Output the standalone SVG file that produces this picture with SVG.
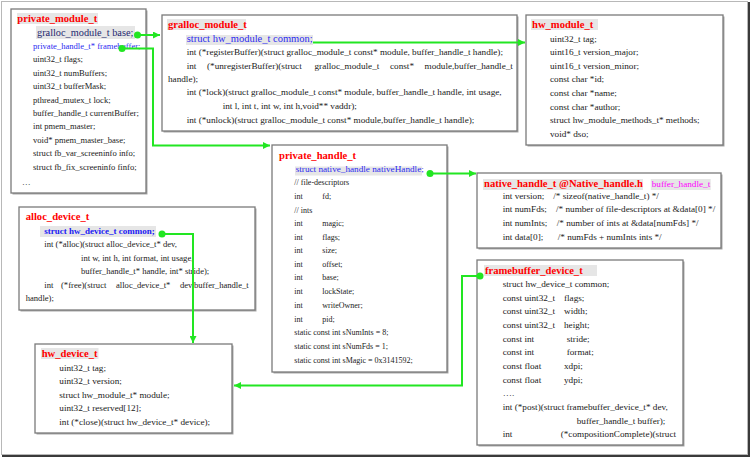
<svg xmlns="http://www.w3.org/2000/svg" width="752" height="458" viewBox="0 0 752 458">
<defs>
<style>
.bg{fill:#ffffff}
.frame{fill:none;stroke:#b8b8b8;stroke-width:1}
.frameshadow{fill:none;stroke:#3a3a3a;stroke-width:2}
.box{fill:#ffffff;stroke:#7a7a7a;stroke-width:1.3}
.shadow{fill:#a8a8a8}
.hl{fill:#e6e6e6}
text{font-family:"Liberation Serif","Times New Roman",serif;fill:#1a1a1a;font-size:9.2px}
.title{font-weight:bold;fill:#ff0000;font-size:10.6px}
.sm{font-size:8.6px}
.xs{font-size:8px}
.blue{fill:#2b2bf0}
.navy{fill:#1e2870;font-size:10.3px}
.bblue{fill:#1a1af5;font-weight:bold;font-size:9px}
.mag{fill:#ff00ff}
.conn{stroke:#22e622;stroke-width:2;fill:none}
.dot{fill:#22e622}
</style>
<marker id="arr" markerUnits="userSpaceOnUse" markerWidth="8" markerHeight="7" viewBox="0 0 10 10" refX="10" refY="5" orient="auto">
<path d="M0,0 L10,5 L0,10 z" fill="#22e622"/>
</marker>
</defs>
<rect class="bg" x="0" y="0" width="752" height="458"/>
<rect class="frame" x="1.5" y="1.5" width="746" height="453"/>
<path class="frameshadow" d="M749,2 V456 H2"/>

<g id="private_module_t">
<rect class="shadow" x="12.5" y="10.5" width="135" height="184"/>
<rect class="box" x="11" y="9" width="135" height="184"/>
<rect class="hl" x="17" y="13" width="81" height="11"/>
<text class="title" x="17.3" y="22">private_module_t</text>
<rect class="hl" x="36" y="26" width="99" height="13"/>
<text class="navy" x="37" y="36">gralloc_module_t base;</text>
<text class="sm blue" x="33" y="48.5">private_handle_t* framebuffer;</text>
<text class="sm" x="33" y="62">uint32_t flags;</text>
<text class="sm" x="33" y="75.5">uint32_t numBuffers;</text>
<text class="sm" x="33" y="89">uint32_t bufferMask;</text>
<text class="sm" x="33" y="102.5">pthread_mutex_t lock;</text>
<text class="sm" x="33" y="115.5">buffer_handle_t currentBuffer;</text>
<text class="sm" x="33" y="129">int pmem_master;</text>
<text class="sm" x="33" y="142.5">void* pmem_master_base;</text>
<text class="sm" x="33" y="156">struct fb_var_screeninfo info;</text>
<text class="sm" x="33" y="169.5">struct fb_fix_screeninfo finfo;</text>
<text class="sm" x="22" y="185">…</text>
</g>

<g id="gralloc_module_t">
<rect class="shadow" x="163.5" y="16.5" width="355" height="116"/>
<rect class="box" x="162" y="15" width="355" height="116"/>
<rect class="hl" x="167" y="19" width="79" height="11"/>
<text class="title" x="168" y="28">gralloc_module_t</text>
<rect class="hl" x="186" y="35" width="127" height="10"/>
<text class="blue" x="186.7" y="42" style="font-size:10.5px">struct hw_module_t common;</text>
<text x="186.7" y="55">int (*registerBuffer)(struct gralloc_module_t const* module, buffer_handle_t handle);</text>
<text y="68.5"><tspan x="186.7">int</tspan><tspan x="207">(*unregisterBuffer)(struct</tspan><tspan x="314.5">gralloc_module_t</tspan><tspan x="390">const*</tspan><tspan x="424.5">module,buffer_handle_t</tspan></text>
<text x="168" y="82">handle);</text>
<text x="186.7" y="95">int (*lock)(struct gralloc_module_t const* module, buffer_handle_t handle, int usage,</text>
<text x="222.7" y="108.5">int l, int t, int w, int h,void** vaddr);</text>
<text x="186.7" y="122.5">int (*unlock)(struct gralloc_module_t const* module,buffer_handle_t handle);</text>
</g>

<g id="hw_module_t">
<rect class="shadow" x="527.5" y="16.5" width="197" height="130"/>
<rect class="box" x="526" y="15" width="197" height="130"/>
<rect class="hl" x="531" y="19" width="67" height="11"/>
<text class="title" x="532" y="28">hw_module_t</text>
<text x="550" y="41.5">uint32_t tag;</text>
<text x="550" y="55">uint16_t version_major;</text>
<text x="550" y="68.7">uint16_t version_minor;</text>
<text x="550" y="82.3">const char *id;</text>
<text x="550" y="96">const char *name;</text>
<text x="550" y="109.7">const char *author;</text>
<text x="550" y="123.3">struct hw_module_methods_t* methods;</text>
<text x="550" y="137">void* dso;</text>
</g>

<g id="private_handle_t">
<rect class="shadow" x="273.5" y="146.5" width="175" height="227"/>
<rect class="box" x="272" y="145" width="175" height="227"/>
<text class="title" x="279" y="159">private_handle_t</text>
<rect class="hl" x="295" y="166.5" width="127" height="9"/>
<text class="blue" x="295.7" y="172">struct native_handle nativeHandle;</text>
<text class="xs" x="294.3" y="185.3">// file-descriptors</text>
<text class="xs" y="199"><tspan x="294.3">int</tspan><tspan x="322.3">fd;</tspan></text>
<text class="xs" x="294.3" y="212.5">// ints</text>
<text class="xs" y="226"><tspan x="294.3">int</tspan><tspan x="322.3">magic;</tspan></text>
<text class="xs" y="239.5"><tspan x="294.3">int</tspan><tspan x="322.3">flags;</tspan></text>
<text class="xs" y="253"><tspan x="294.3">int</tspan><tspan x="322.3">size;</tspan></text>
<text class="xs" y="266.7"><tspan x="294.3">int</tspan><tspan x="322.3">offset;</tspan></text>
<text class="xs" y="280.3"><tspan x="294.3">int</tspan><tspan x="322.3">base;</tspan></text>
<text class="xs" y="294"><tspan x="294.3">int</tspan><tspan x="322.3">lockState;</tspan></text>
<text class="xs" y="307.7"><tspan x="294.3">int</tspan><tspan x="322.3">writeOwner;</tspan></text>
<text class="xs" y="321.5"><tspan x="294.3">int</tspan><tspan x="322.3">pid;</tspan></text>
<text class="xs" x="294.3" y="335.2">static const int sNumInts = 8;</text>
<text class="xs" x="294.3" y="349">static const int sNumFds = 1;</text>
<text class="xs" x="294.3" y="362.7">static const int sMagic  = 0x3141592;</text>
</g>

<g id="native_handle_t">
<rect class="shadow" x="478.5" y="174.5" width="244" height="75"/>
<rect class="box" x="477" y="173" width="244" height="75"/>
<rect class="hl" x="483" y="179" width="160" height="11"/>
<text class="title" x="484" y="187">native_handle_t @Native_handle.h</text>
<rect class="hl" x="650.7" y="179" width="60" height="11"/>
<text class="mag" x="651.7" y="187">buffer_handle_t</text>
<text y="198.5"><tspan x="502.7">int version;</tspan><tspan x="553.3">/* sizeof(native_handle_t) */</tspan></text>
<text y="212.3"><tspan x="502.7">int numFds;</tspan><tspan x="556">/* number of file-descriptors at &amp;data[0] */</tspan></text>
<text y="225.8"><tspan x="502.7">int numInts;</tspan><tspan x="556.7">/* number of ints at &amp;data[numFds] */</tspan></text>
<text y="240"><tspan x="502.7">int data[0];</tspan><tspan x="557.7">/* numFds + numInts ints */</tspan></text>
</g>

<g id="alloc_device_t">
<rect class="shadow" x="20.5" y="208.5" width="236" height="103"/>
<rect class="box" x="19" y="207" width="236" height="103"/>
<text class="title" x="25.7" y="220">alloc_device_t</text>
<rect class="hl" x="40" y="226" width="116" height="11"/>
<text class="bblue" x="44.3" y="234">struct hw_device_t common;</text>
<text class="sm" x="44.3" y="247">int (*alloc)(struct alloc_device_t* dev,</text>
<text class="sm" x="81" y="261">int w, int h, int format, int usage,</text>
<text class="sm" x="81" y="274">buffer_handle_t* handle, int* stride);</text>
<text class="sm" y="287.5"><tspan x="44.3">int</tspan><tspan x="61">(*free)(struct</tspan><tspan x="116">alloc_device_t*</tspan><tspan x="180">dev,buffer_handle_t</tspan></text>
<text class="sm" x="25.7" y="300.8">handle);</text>
</g>

<g id="hw_device_t">
<rect class="shadow" x="36.5" y="345.5" width="197" height="89"/>
<rect class="box" x="35" y="344" width="197" height="89"/>
<rect class="hl" x="41" y="348" width="57.5" height="11"/>
<text class="title" x="41.7" y="356.7">hw_device_t</text>
<text x="59.3" y="370.7">uint32_t tag;</text>
<text x="59.3" y="384.3">uint32_t version;</text>
<text x="59.3" y="397.8">struct hw_module_t* module;</text>
<text x="59.3" y="411.2">uint32_t reserved[12];</text>
<text x="59.3" y="425">int (*close)(struct hw_device_t* device);</text>
</g>

<g id="framebuffer_device_t">
<rect class="shadow" x="478.5" y="261.5" width="206" height="185"/>
<rect class="box" x="477" y="260" width="206" height="185"/>
<rect class="hl" x="484" y="265" width="113" height="11"/>
<text class="title" x="485" y="274">framebuffer_device_t</text>
<text x="502.7" y="287">struct hw_device_t common;</text>
<text y="300.7"><tspan x="502.7">const uint32_t</tspan><tspan x="564">flags;</tspan></text>
<text y="314.3"><tspan x="502.7">const uint32_t</tspan><tspan x="564">width;</tspan></text>
<text y="328"><tspan x="502.7">const uint32_t</tspan><tspan x="564">height;</tspan></text>
<text y="341.7"><tspan x="502.7">const int</tspan><tspan x="566.7">stride;</tspan></text>
<text y="355.3"><tspan x="502.7">const int</tspan><tspan x="566.7">format;</tspan></text>
<text y="369"><tspan x="502.7">const float</tspan><tspan x="564">xdpi;</tspan></text>
<text y="382.7"><tspan x="502.7">const float</tspan><tspan x="564">ydpi;</tspan></text>
<text x="502.7" y="396">….</text>
<text x="502.7" y="410">int (*post)(struct framebuffer_device_t* dev,</text>
<text x="576.7" y="423.7">buffer_handle_t buffer);</text>
<text y="437.3"><tspan x="502.7">int</tspan><tspan x="560.7">(*compositionComplete)(struct</tspan></text>
</g>

<g id="connectors">
<path class="conn" d="M137,35 H160" marker-end="url(#arr)"/>
<circle class="dot" cx="137.5" cy="35" r="3.5"/>
<path class="conn" d="M122,48.5 H153 V145.5 H270" marker-end="url(#arr)"/>
<circle class="dot" cx="122" cy="48.5" r="3.5"/>
<path class="conn" d="M313,42.5 H525" marker-end="url(#arr)"/>
<path class="conn" d="M430,173.5 H476" marker-end="url(#arr)"/>
<circle class="dot" cx="430" cy="173.5" r="3.5"/>
<path class="conn" d="M162,234 H193 V343" marker-end="url(#arr)"/>
<circle class="dot" cx="162" cy="234" r="3.5"/>
<path class="conn" d="M480,276 H462 V385.5 H234" marker-end="url(#arr)"/>
<circle class="dot" cx="480" cy="276" r="3.5"/>
</g>
</svg>
